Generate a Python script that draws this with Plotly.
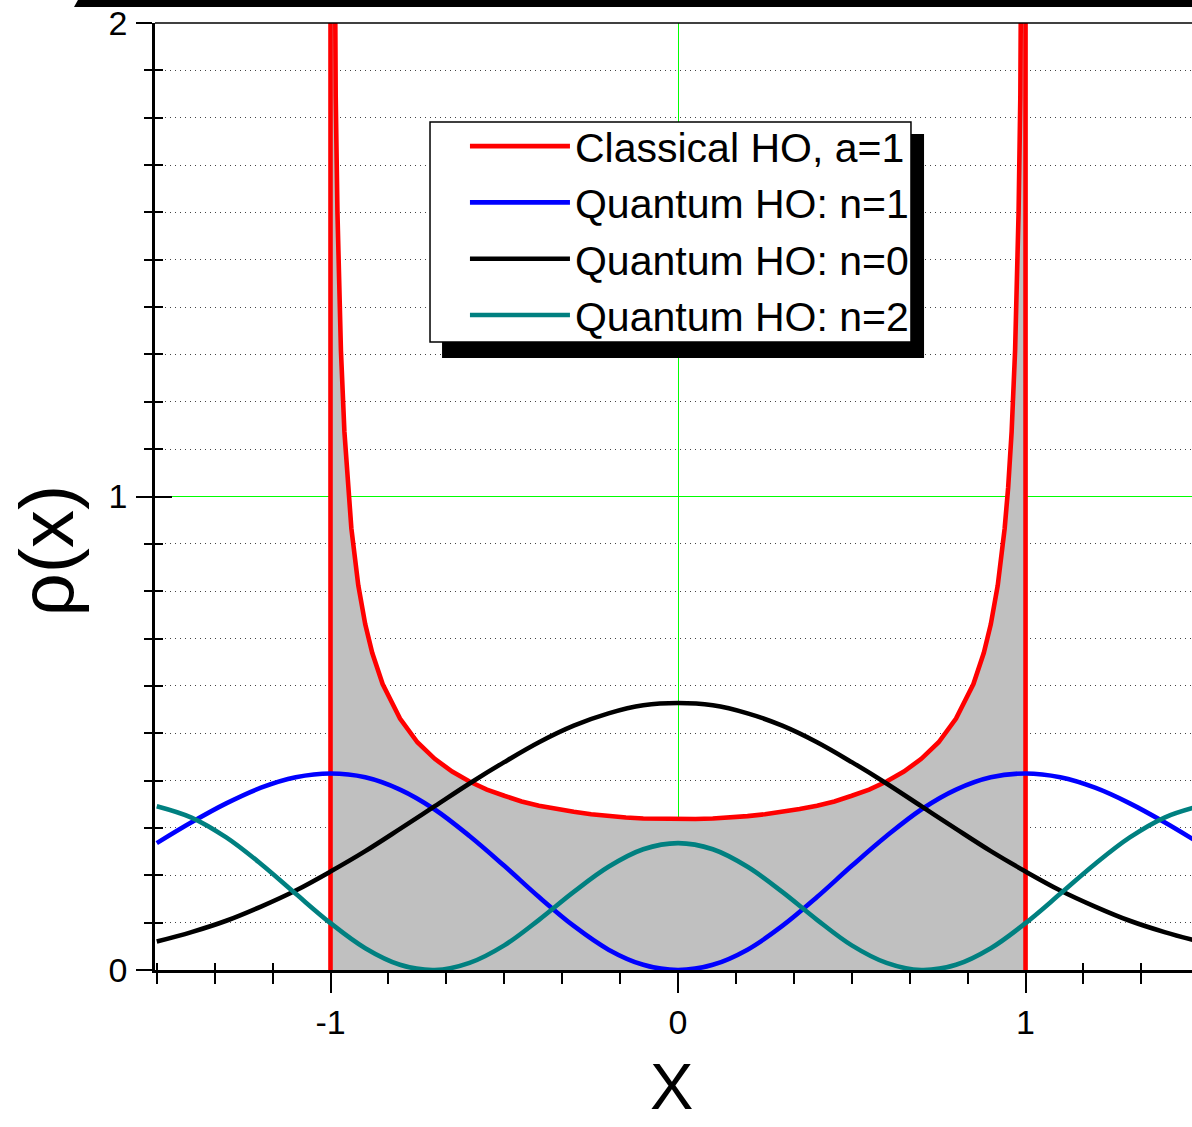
import plotly.graph_objects as go

# ---------------- data ----------------
# Classical harmonic oscillator density, a = 1 (diverges at x = +-1)
x_classical = [-1.0, -1.0, -0.995, -0.99, -0.985, -0.98, -0.975, -0.97, -0.96, -0.95, -0.94,
               -0.92, -0.9, -0.88, -0.85, -0.8, -0.75, -0.7, -0.65, -0.6, -0.55, -0.5, -0.45,
               -0.4, -0.35, -0.3, -0.25, -0.2, -0.15, -0.1, -0.05, 0.0,
               0.05, 0.1, 0.15, 0.2, 0.25, 0.3, 0.35, 0.4, 0.45, 0.5, 0.55, 0.6, 0.65, 0.7,
               0.75, 0.8, 0.85, 0.88, 0.9, 0.92, 0.94, 0.95, 0.96, 0.97, 0.975, 0.98, 0.985,
               0.99, 0.995, 1.0, 1.0]
y_classical = [0.0, 10.0, 3.187, 2.256, 1.845, 1.600, 1.433, 1.309, 1.137, 1.019, 0.933,
               0.812, 0.730, 0.670, 0.604, 0.531, 0.481, 0.446, 0.419, 0.398, 0.381, 0.368, 0.356,
               0.347, 0.340, 0.334, 0.329, 0.325, 0.322, 0.320, 0.319, 0.318,
               0.319, 0.320, 0.322, 0.325, 0.329, 0.334, 0.340, 0.347, 0.356, 0.368, 0.381, 0.398,
               0.419, 0.446, 0.481, 0.531, 0.604, 0.670, 0.730, 0.812, 0.933, 1.019, 1.137,
               1.309, 1.433, 1.600, 1.845, 2.256, 3.187, 10.0, 0.0]

# Quantum harmonic oscillator densities
x_quantum = [-1.5, -1.4, -1.3, -1.2, -1.1, -1.0, -0.9, -0.8, -0.7, -0.6, -0.5, -0.4, -0.3, -0.2,
             -0.1, 0.0, 0.1, 0.2, 0.3, 0.4, 0.5, 0.6, 0.7, 0.8, 0.9, 1.0, 1.1, 1.2, 1.3, 1.4, 1.5]
rho_n1 = [0.268, 0.312, 0.352, 0.385, 0.407, 0.415, 0.407, 0.381, 0.339, 0.283, 0.220, 0.154,
          0.093, 0.043, 0.011, 0.000, 0.011, 0.043, 0.093, 0.154, 0.220, 0.283, 0.339, 0.381,
          0.407, 0.415, 0.407, 0.385, 0.352, 0.312, 0.268]
rho_n0 = [0.060, 0.080, 0.104, 0.134, 0.168, 0.208, 0.251, 0.298, 0.346, 0.394, 0.439, 0.481,
          0.516, 0.542, 0.559, 0.564, 0.559, 0.542, 0.516, 0.481, 0.439, 0.394, 0.346, 0.298,
          0.251, 0.208, 0.168, 0.134, 0.104, 0.080, 0.060]
rho_n2 = [0.346, 0.322, 0.280, 0.224, 0.161, 0.099, 0.046, 0.011, 0.000, 0.015, 0.052, 0.106,
          0.165, 0.218, 0.255, 0.268, 0.255, 0.218, 0.165, 0.106, 0.052, 0.015, 0.000, 0.011,
          0.046, 0.099, 0.161, 0.224, 0.280, 0.322, 0.346]

series_names = ["Classical HO, a=1", "Quantum HO: n=1", "Quantum HO: n=0", "Quantum HO: n=2"]
x_tickvals = [-1, 0, 1]
x_ticktext = ["-1", "0", "1"]
y_tickvals = [0, 1, 2]
y_ticktext = ["0", "1", "2"]
x_title = "X"
y_title = "ρ(x)"

FONT = "Liberation Sans, Arial, sans-serif"
LW = 4.6

fig = go.Figure()

# grey area under the classical curve
fig.add_trace(go.Scatter(x=x_classical, y=y_classical, mode="lines",
                         line=dict(width=0, color="rgba(0,0,0,0)"),
                         fill="tozeroy", fillcolor="#C0C0C0",
                         showlegend=False, hoverinfo="skip"))
fig.add_trace(go.Scatter(x=x_classical, y=y_classical, mode="lines", name=series_names[0],
                         line=dict(color="#FF0000", width=LW)))
fig.add_trace(go.Scatter(x=x_quantum, y=rho_n1, mode="lines", name=series_names[1],
                         line=dict(color="#0000FF", width=LW, shape="spline")))
fig.add_trace(go.Scatter(x=x_quantum, y=rho_n0, mode="lines", name=series_names[2],
                         line=dict(color="#000000", width=LW, shape="spline")))
# top-most curve lives on the overlaid axes pair (identical ranges) so that the
# inner half of the crossing tick marks gets drawn
fig.add_trace(go.Scatter(x=x_quantum, y=rho_n2, mode="lines", name=series_names[3],
                         xaxis="x2", yaxis="y2",
                         line=dict(color="#008080", width=LW, shape="spline")))

XR = [-1.505, 1.479]
YR = [0, 2]
tickfont = dict(family=FONT, size=34, color="black")

fig.update_layout(
    width=1192, height=1127,
    margin=dict(l=155, r=0, t=23, b=157, autoexpand=False),
    paper_bgcolor="white", plot_bgcolor="white",
    font=dict(family=FONT, color="black"),
    xaxis=dict(range=XR, showline=True, linewidth=3, linecolor="black",
               layer="below traces", automargin=False,
               tickmode="array", tickvals=x_tickvals, ticktext=x_ticktext,
               ticks="outside", ticklen=20, tickwidth=2, tickcolor="black",
               tickfont=tickfont, showgrid=False,
               zeroline=True, zerolinecolor="#00FF00", zerolinewidth=1,
               minor=dict(tick0=0, dtick=1/6, ticks="outside", ticklen=11,
                          tickwidth=2, tickcolor="black", showgrid=False)),
    xaxis2=dict(range=XR, overlaying="x", anchor="y2", side="bottom",
                layer="below traces", showline=False, zeroline=False, showgrid=False,
                tickmode="array", tickvals=x_tickvals, ticktext=["", "", ""],
                ticks="inside", ticklen=17, tickwidth=2, tickcolor="black",
                minor=dict(tick0=0, dtick=1/6, ticks="inside", ticklen=7,
                           tickwidth=2, tickcolor="black", showgrid=False)),
    yaxis=dict(range=YR, showline=True, linewidth=2.5, linecolor="black",
               automargin=False,
               tickmode="array", tickvals=y_tickvals, ticktext=y_ticktext,
               ticks="outside", ticklen=16, tickwidth=2, tickcolor="black",
               tickfont=tickfont, ticklabelstandoff=2,
               showgrid=True, gridcolor="#00FF00", gridwidth=1, zeroline=False,
               minor=dict(dtick=0.1, ticks="outside", ticklen=8, tickwidth=2,
                          tickcolor="black", showgrid=True, gridcolor="#444444",
                          gridwidth=1, griddash="1px,4px")),
    yaxis2=dict(range=YR, overlaying="y", anchor="x2", side="left",
                showline=False, zeroline=False, showgrid=False,
                tickmode="array", tickvals=y_tickvals, ticktext=["", "", ""],
                ticks="inside", ticklen=17, tickwidth=2, tickcolor="black",
                minor=dict(dtick=0.1, ticks="inside", ticklen=8, tickwidth=2,
                           tickcolor="black", showgrid=False)),
    legend=dict(x=0.2989, y=0.905, xanchor="left", yanchor="top",
                bgcolor="rgba(0,0,0,0)", borderwidth=0,
                font=dict(family=FONT, size=41, color="black"),
                itemwidth=100, tracegroupgap=0),
    annotations=[
        dict(text=y_title, xref="paper", yref="paper", x=-0.1475, y=0.4425,
             xanchor="left", yanchor="middle", textangle=-90, showarrow=False,
             font=dict(family=FONT, size=76, color="black")),
        dict(text=x_title, xref="paper", yref="paper", x=0.4985, y=-0.1636,
             xanchor="center", yanchor="bottom", showarrow=False,
             font=dict(family=FONT, size=65, color="black")),
    ],
    shapes=[
        # legend drop shadow
        dict(type="rect", xref="paper", yref="paper", x0=0.2768, x1=0.7416,
             y0=0.6463, y1=0.8828, fillcolor="black", line=dict(width=0), layer="above"),
        # legend frame
        dict(type="rect", xref="paper", yref="paper", x0=0.2652, x1=0.7290,
             y0=0.6631, y1=0.8955, fillcolor="white",
             line=dict(color="black", width=1.5), layer="above"),
        # thin frame line along the top of the plot
        dict(type="line", xref="paper", yref="paper", x0=0, x1=1, y0=1, y1=1,
             line=dict(color="black", width=1.5), layer="above"),
        # thick black band at the very top of the image
        dict(type="path", xref="paper", yref="paper",
             path="M -0.0781,1.0169 L -0.0714,1.03 L 1.01,1.03 L 1.01,1.0169 Z",
             fillcolor="black", line=dict(width=0), layer="above"),
    ],
)

fig.write_html("out.html", config={"displayModeBar": False},
               post_script="document.body.style.margin='0px';document.body.style.overflow='hidden';")
